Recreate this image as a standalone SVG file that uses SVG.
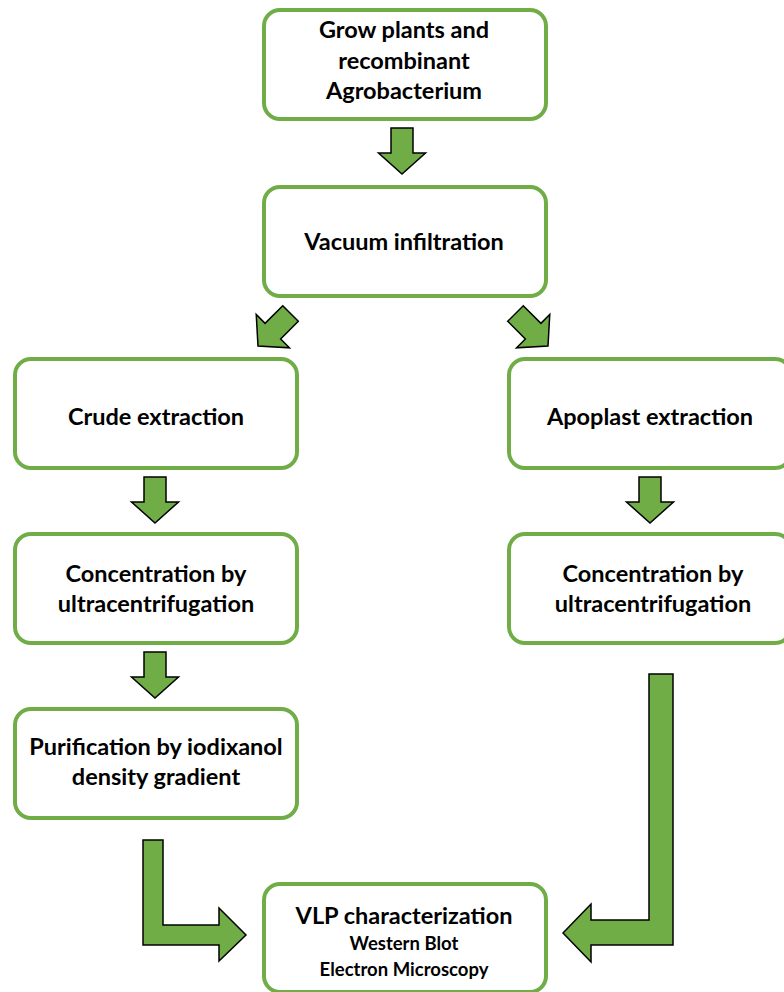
<svg xmlns="http://www.w3.org/2000/svg" width="784" height="992" viewBox="0 0 784 992">
<style>
.box{fill:#fff;stroke:#70AD47;stroke-width:4}
.arr{fill:#70AD47;stroke:#000;stroke-width:1.5;stroke-linejoin:miter}
.t{font-family:Lato,"Open Sans",sans-serif;font-weight:bold;font-size:23.5px;fill:#000;text-anchor:middle}
.s{font-size:18.5px}
</style>
<defs>
<path id="da" d="M-11,-46 L11,-46 L11,-21 L23.5,-21 L0,0 L-23.5,-21 L-11,-21 Z"/>
</defs>
<rect width="784" height="992" fill="#fff"/>
<g id="connectors">
<use href="#da" class="arr" transform="translate(402,174)"/>
<use href="#da" class="arr" transform="translate(258,346) rotate(45)"/>
<use href="#da" class="arr" transform="translate(548,346) rotate(-45)"/>
<use href="#da" class="arr" transform="translate(155,523)"/>
<use href="#da" class="arr" transform="translate(650,523)"/>
<use href="#da" class="arr" transform="translate(155,698)"/>
<path class="arr" d="M143,840 L163,840 L163,925 L219,925 L219,908 L246,935 L219,961 L219,945 L143,945 Z"/>
<path class="arr" d="M649,674 L673,674 L673,945 L591,945 L591,962 L563,933 L591,904 L591,920 L649,920 Z"/>
</g>
<g id="grow">
<rect class="box" x="264" y="10" width="282" height="109" rx="16"/>
<text class="t" x="404" y="38">Grow plants and</text>
<text class="t" x="404" y="69">recombinant</text>
<text class="t" x="404" y="99">Agrobacterium</text>
</g>
<g id="vacuum">
<rect class="box" x="264" y="187" width="282" height="109" rx="16"/>
<text class="t" x="404" y="250">Vacuum infiltration</text>
</g>
<g id="crude">
<rect class="box" x="15" y="359" width="282" height="109" rx="16"/>
<text class="t" x="156" y="425">Crude extraction</text>
</g>
<g id="apoplast">
<rect class="box" x="509" y="359" width="282" height="109" rx="16"/>
<text class="t" x="650" y="425">Apoplast extraction</text>
</g>
<g id="conc-left">
<rect class="box" x="15" y="534" width="282" height="109" rx="16"/>
<text class="t" x="156" y="582">Concentration by</text>
<text class="t" x="156" y="612">ultracentrifugation</text>
</g>
<g id="conc-right">
<rect class="box" x="509" y="534" width="282" height="109" rx="16"/>
<text class="t" x="653" y="582">Concentration by</text>
<text class="t" x="653" y="612">ultracentrifugation</text>
</g>
<g id="purification">
<rect class="box" x="15" y="709" width="282" height="109" rx="16"/>
<text class="t" x="156" y="755">Purification by iodixanol</text>
<text class="t" x="156" y="785">density gradient</text>
</g>
<g id="vlp">
<rect class="box" x="264" y="884" width="282" height="108" rx="16"/>
<text class="t" x="404" y="924">VLP characterization</text>
<text class="t s" x="404" y="950">Western Blot</text>
<text class="t s" x="404" y="976">Electron Microscopy</text>
</g>
</svg>
